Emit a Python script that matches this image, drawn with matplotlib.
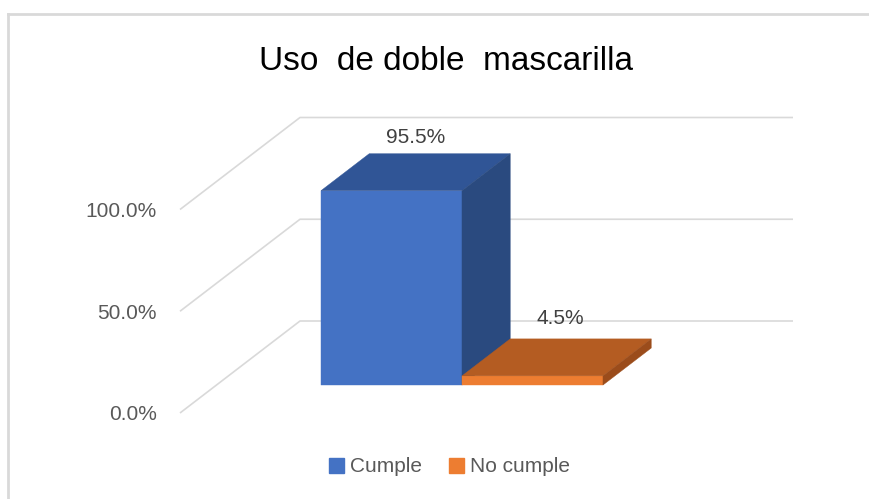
import matplotlib
matplotlib.use("Agg")
import matplotlib.pyplot as plt
from matplotlib.patches import Polygon, Patch
from matplotlib.lines import Line2D

# ---- data ----
series = ["Cumple", "No cumple"]
values = [95.5, 4.5]
yticks = [0.0, 50.0, 100.0]
title = "Uso  de doble  mascarilla"

front_colors = ["#4472C4", "#ED7D31"]
top_colors = ["#305596", "#B45C22"]
side_colors = ["#2A4A7F", "#9B4C1B"]

W, H = 869, 499
plt.rcParams["font.family"] = ["Liberation Sans", "DejaVu Sans"]
fig = plt.figure(figsize=(W / 100, H / 100), dpi=100)

# front plane of the 3D box (depth 0)
ax_left, ax_right = 180, 673
ax_bottom, ax_h = 86, 203.5
ax = fig.add_axes([ax_left / W, ax_bottom / H, (ax_right - ax_left) / W, ax_h / H])
bar_px = 141.0
xl = -0.5 - 104.5 / bar_px
ax.set_xlim(xl, xl + (ax_right - ax_left) / bar_px)
ax.set_ylim(0, 100)
for s in ax.spines.values():
    s.set_visible(False)
ax.set_xticks([])
ax.set_yticks(yticks)
ax.set_yticklabels([f"{v:.1f}%" for v in yticks])
ax.tick_params(axis="y", length=0, pad=16.5, labelsize=15, labelcolor="#595959")
ax.patch.set_visible(False)

DX, DY = 120.0, 92.0     # full depth offset in pixels
DF, DB = 0.304, 0.706    # bar front/back depth fraction

fig.canvas.draw()
p0 = ax.transData.transform((0, 0))
sx = ax.transData.transform((1, 0))[0] - p0[0]
sy = ax.transData.transform((0, 1))[1] - p0[1]


def P(x, y, d):
    return (x + d * DX / sx, y + d * DY / sy)


x0, x1 = ax.get_xlim()
grid_c = "#D9D9D9"
for v in yticks:
    a = P(x0, v, 0)
    b = P(x0, v, 1)
    c = P(x1, v, 1)
    ax.plot([a[0], b[0], c[0]], [a[1], b[1], c[1]], color=grid_c, lw=1.2,
            clip_on=False, zorder=1, solid_capstyle="butt")

for i, (v, fc, tc, sc) in enumerate(zip(values, front_colors, top_colors, side_colors)):
    xa, xb = i - 0.5, i + 0.5
    front = [P(xa, 0, DF), P(xb, 0, DF), P(xb, v, DF), P(xa, v, DF)]
    top = [P(xa, v, DF), P(xb, v, DF), P(xb, v, DB), P(xa, v, DB)]
    side = [P(xb, 0, DF), P(xb, 0, DB), P(xb, v, DB), P(xb, v, DF)]
    for poly, col in ((front, fc), (top, tc), (side, sc)):
        ax.add_patch(Polygon(poly, closed=True, facecolor=col, edgecolor=col,
                             lw=0.3, clip_on=False, zorder=3 + i))
    lx, _ = P(i, v, (DF + DB) / 2)
    _, ly = P(i, v, DB)
    ax.annotate(f"{v:.1f}%", (lx, ly), xytext=(3 * i, 5 + 3 * i), textcoords="offset points",
                ha="center", va="bottom", fontsize=15, color="#404040",
                annotation_clip=False, zorder=10)

fig.text(446 / W, (H - 70) / H, title, ha="center", va="baseline",
         fontsize=24, color="black")

handles = [Patch(facecolor=c, edgecolor=c) for c in front_colors]
fig.legend(handles, series, loc="center", bbox_to_anchor=(449.5 / W, (H - 467) / H),
           ncol=2, frameon=False, fontsize=15, handlelength=0.7, handleheight=0.7,
           handletextpad=0.3, columnspacing=1.3, labelcolor="#595959")

bc = "#D9D9D9"
fig.add_artist(Line2D([8 / W, 1.0], [(H - 14) / H, (H - 14) / H], color=bc, lw=2,
                      transform=fig.transFigure))
fig.add_artist(Line2D([8 / W, 8 / W], [(H - 14) / H, 0], color=bc, lw=2,
                      transform=fig.transFigure))

fig.savefig("out.png", dpi=100, facecolor="white")
